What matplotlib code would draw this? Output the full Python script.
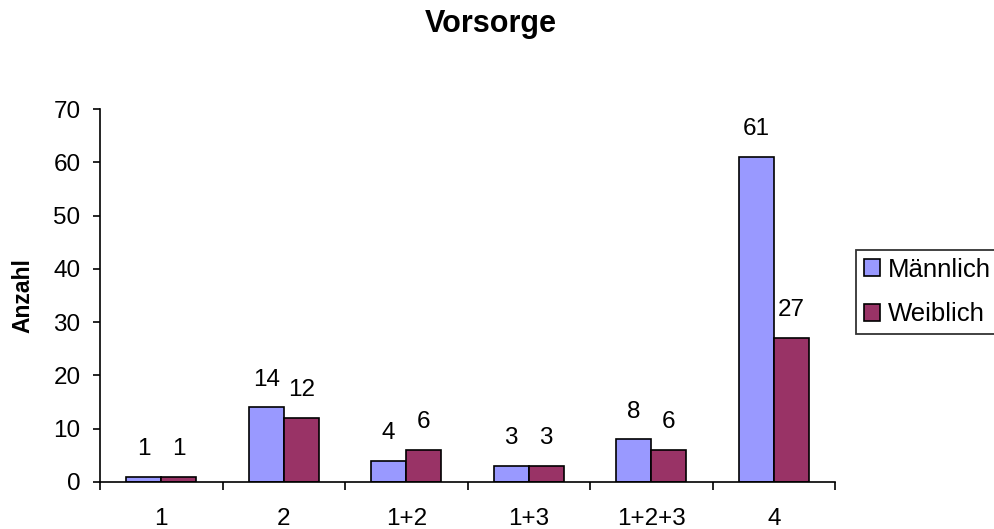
import numpy as np
import matplotlib.pyplot as plt
from matplotlib.ticker import FixedLocator

plt.rcParams['font.family'] = ['Liberation Sans', 'DejaVu Sans']

categories = ["1", "2", "1+2", "1+3", "1+2+3", "4"]
maennlich = [1, 14, 4, 3, 8, 61]
weiblich = [1, 12, 6, 3, 6, 27]

col_m = "#9999FF"
col_w = "#993366"
fs = 17.5

fig = plt.figure(figsize=(9.94, 5.29), dpi=100)
ax = fig.add_axes([100 / 994, 1 - 482 / 529, 735 / 994, 373 / 529])

x = np.arange(len(categories))
w = 0.286
bm = ax.bar(x - w / 2, maennlich, w, color=col_m, edgecolor="black", linewidth=1.2, label="Männlich")
bw = ax.bar(x + w / 2, weiblich, w, color=col_w, edgecolor="black", linewidth=1.2, label="Weiblich")

for bars, vals in ((bm, maennlich), (bw, weiblich)):
    for b, v in zip(bars, vals):
        ax.annotate(str(v), (b.get_x() + b.get_width() / 2, v),
                    xytext=(0, 20), textcoords="offset points",
                    ha="center", va="center", fontsize=fs)

ax.set_xlim(-0.5, len(categories) - 0.5)
ax.set_ylim(0, 70)
ax.set_yticks(range(0, 71, 10))
ax.tick_params(axis="y", direction="out", length=5, width=1.2, labelsize=fs, pad=9)

# category labels sit on major ticks, tick marks go between categories
ax.set_xticks(x)
ax.set_xticklabels(categories)
ax.tick_params(axis="x", which="major", length=0, labelsize=fs, pad=19)
ax.xaxis.set_minor_locator(FixedLocator(np.arange(-0.5, len(categories), 1.0)))
ax.tick_params(axis="x", which="minor", direction="out", length=6, width=1.2)

for s in ("top", "right"):
    ax.spines[s].set_visible(False)
for s in ("left", "bottom"):
    ax.spines[s].set_linewidth(1.2)

ax.set_ylabel("Anzahl", fontsize=16.5, fontweight="bold", labelpad=14)
fig.text(491 / 994, 1 - 32 / 529, "Vorsorge", ha="center", va="baseline",
         fontsize=22, fontweight="bold")

leg = fig.legend(handles=[bm, bw], loc="upper left", bbox_to_anchor=(856 / 994, 1 - 250 / 529),
                 fontsize=18.5, frameon=True, fancybox=False, edgecolor="black",
                 handlelength=0.65, handleheight=0.65, handletextpad=0.3,
                 borderpad=0.3, labelspacing=0.8, borderaxespad=0)
leg.get_frame().set_linewidth(1.3)

fig.savefig("out.png", dpi=100)
